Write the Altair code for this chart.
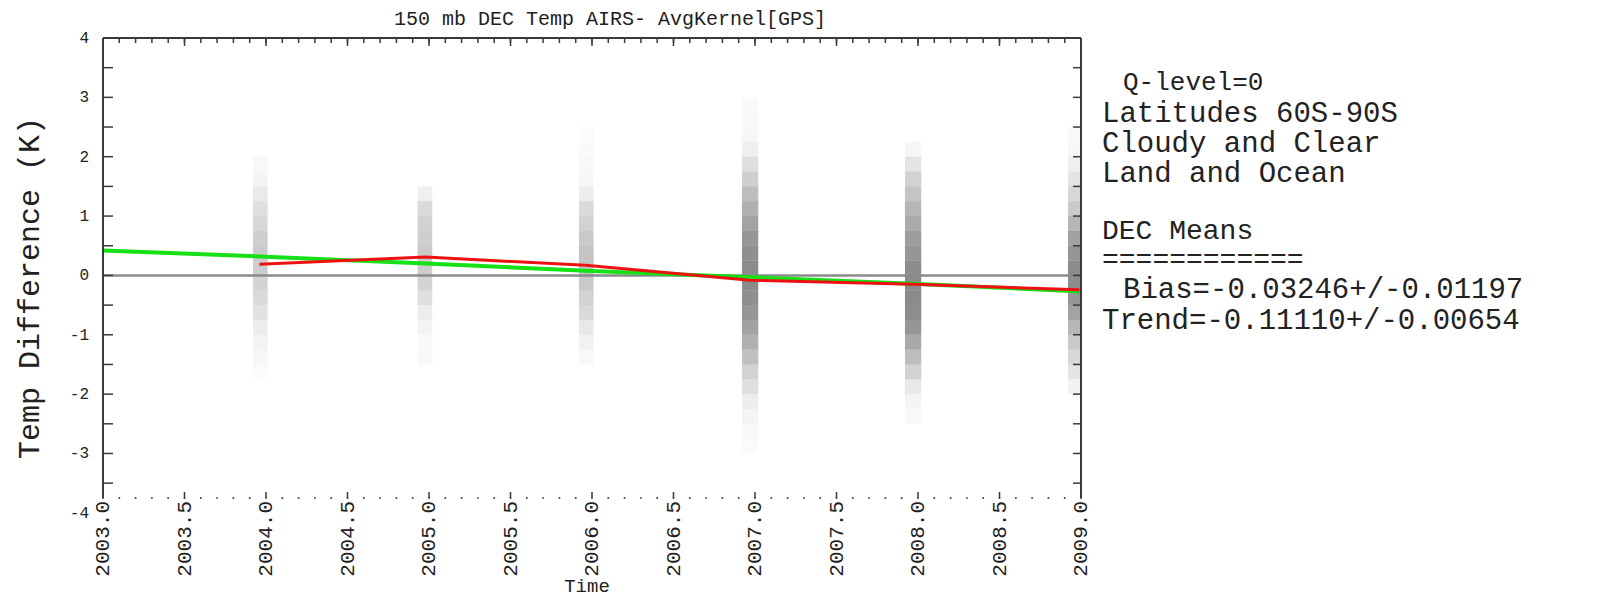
import altair as alt
import pandas as pd
import numpy as np

# ---------------- data ----------------
TITLE = "150 mb DEC Temp AIRS- AvgKernel[GPS]"
Y_TITLE = "Temp Difference (K)"
X_TITLE = "Time"
INFO_LINES = [
    "Q-level=0",
    "Latitudes 60S-90S",
    "Cloudy and Clear",
    "Land and Ocean",
    "DEC  Means",
    "============",
    "Bias=-0.03246+/-0.01197",
    "Trend=-0.11110+/-0.00654",
]

x_tick_values = [2003.0, 2003.5, 2004.0, 2004.5, 2005.0, 2005.5, 2006.0,
                 2006.5, 2007.0, 2007.5, 2008.0, 2008.5, 2009.0]
x_tick_labels = ["2003.0", "2003.5", "2004.0", "2004.5", "2005.0", "2005.5", "2006.0",
                 "2006.5", "2007.0", "2007.5", "2008.0", "2008.5", "2009.0"]
y_tick_values = [-4, -3, -2, -1, 0, 1, 2, 3, 4]
y_tick_labels = ["-4", "-3", "-2", "-1", "0", "1", "2", "3", "4"]

# red: monthly (DEC) mean differences
red_x = [2003.96, 2004.98, 2005.96, 2006.97, 2007.97, 2008.99]
red_y = [0.19, 0.31, 0.17, -0.08, -0.15, -0.24]
# green: fitted trend line
green_x = [2003.0, 2003.96, 2004.98, 2005.96, 2006.97, 2007.97, 2009.0]
green_y = [0.42, 0.32, 0.20, 0.08, -0.03, -0.14, -0.27]

# scatter bands (one per December), shown as point density per 0.25 K bin
band_start = [2003.92, 2004.93, 2005.92, 2006.92, 2007.92, 2008.92]
band_end = [2004.01, 2005.02, 2006.01, 2007.02, 2008.02, 2009.00]
bin_lo = [-3.0, -2.75, -2.5, -2.25, -2.0, -1.75, -1.5, -1.25, -1.0, -0.75, -0.5, -0.25,
          0.0, 0.25, 0.5, 0.75, 1.0, 1.25, 1.5, 1.75, 2.0, 2.25, 2.5, 2.75]
dens_2003 = [0, 0, 0, 0, 0, 0.03, 0.06, 0.09, 0.14, 0.22, 0.28, 0.32,
             0.38, 0.40, 0.36, 0.30, 0.24, 0.16, 0.08, 0.05, 0, 0, 0, 0]
dens_2004 = [0, 0, 0, 0, 0, 0, 0.05, 0.04, 0.09, 0.14, 0.24, 0.32,
             0.38, 0.40, 0.36, 0.34, 0.28, 0.12, 0, 0, 0, 0, 0, 0]
dens_2005 = [0, 0, 0, 0, 0, 0, 0.05, 0.10, 0.18, 0.28, 0.34, 0.40,
             0.45, 0.45, 0.40, 0.34, 0.28, 0.14, 0.06, 0.05, 0.04, 0.03, 0, 0]
dens_2006 = [0.03, 0.05, 0.08, 0.14, 0.24, 0.34, 0.48, 0.60, 0.70, 0.80, 0.85, 0.88,
             0.88, 0.85, 0.80, 0.70, 0.60, 0.50, 0.36, 0.24, 0.12, 0.06, 0.05, 0.04]
dens_2007 = [0, 0, 0.05, 0.08, 0.18, 0.34, 0.50, 0.65, 0.80, 0.86, 0.88, 0.88,
             0.86, 0.80, 0.74, 0.64, 0.55, 0.45, 0.34, 0.20, 0.07, 0, 0, 0]
dens_2008 = [0, 0, 0, 0, 0.10, 0.20, 0.30, 0.40, 0.55, 0.70, 0.80, 0.86,
             0.86, 0.80, 0.70, 0.55, 0.40, 0.30, 0.20, 0.12, 0.07, 0.05, 0, 0]
densities = [dens_2003, dens_2004, dens_2005, dens_2006, dens_2007, dens_2008]

# ---------------- tables ----------------
rows = []
for i, dens in enumerate(densities):
    for lo, d in zip(bin_lo, dens):
        if d > 0:
            rows.append({"x0": band_start[i], "x1": band_end[i],
                         "y0": lo, "y1": lo + 0.25, "op": d})
band_df = pd.DataFrame(rows)
red_df = pd.DataFrame({"x": red_x, "y": red_y})
green_df = pd.DataFrame({"x": green_x, "y": green_y})

minor_x = [round(2003.0 + 0.1 * i, 1) for i in range(61)]
half_y = [v / 2 for v in range(-7, 9)]

W, H = 978, 460
FONT = "Liberation Mono"
TXT = "#222222"
AX = "#3a3a3a"

xs = alt.Scale(domain=[2003, 2009], nice=False, zero=False)
ys = alt.Scale(domain=[-3.75, 4], nice=False, zero=False)


def X(field="x"):
    return alt.X(f"{field}:Q", scale=xs, axis=None)


def Y(field="y"):
    return alt.Y(f"{field}:Q", scale=ys, axis=None)


layers = []

# density bands
layers.append(
    alt.Chart(band_df).mark_rect(color="#2a2a2a").encode(
        x=X("x0"), x2="x1", y=Y("y0"), y2="y1",
        opacity=alt.Opacity("op:Q", scale=alt.Scale(domain=[0, 1], range=[0, 0.62]),
                            legend=None))
)

# zero line
zero_df = pd.DataFrame({"x": [2003.0], "x2": [2009.0], "y": [0.0]})
layers.append(
    alt.Chart(zero_df).mark_rule(color="#8a8a8a", strokeWidth=2.5).encode(
        x=X("x"), x2="x2", y=Y("y"))
)

# lines
layers.append(alt.Chart(green_df).mark_line(color="#16e016", strokeWidth=4).encode(x=X(), y=Y()))
layers.append(alt.Chart(red_df).mark_line(color="#ee1111", strokeWidth=3).encode(x=X(), y=Y()))

# frame: left, right, top
frame_v = pd.DataFrame({"x": [2003.0, 2009.0], "y": [-3.75, -3.75], "y2": [4.0, 4.0]})
layers.append(alt.Chart(frame_v).mark_rule(color=AX, strokeWidth=2).encode(x=X(), y=Y(), y2="y2"))
frame_t = pd.DataFrame({"x": [2003.0], "x2": [2009.0], "y": [4.0]})
layers.append(alt.Chart(frame_t).mark_rule(color=AX, strokeWidth=2).encode(x=X(), x2="x2", y=Y()))

# top ticks
minor_df = pd.DataFrame({"x": minor_x})
major_df = pd.DataFrame({"x": x_tick_values})
layers.append(alt.Chart(minor_df).mark_rule(color=AX, strokeWidth=1.5).encode(
    x=X(), y=alt.value(0), y2=alt.value(5)))
layers.append(alt.Chart(major_df).mark_rule(color=AX, strokeWidth=1.5).encode(
    x=X(), y=alt.value(0), y2=alt.value(8)))

# bottom dotted axis
layers.append(alt.Chart(minor_df).mark_square(size=3, color=AX, opacity=1).encode(
    x=X(), y=alt.value(H)))
layers.append(alt.Chart(major_df).mark_rule(color=AX, strokeWidth=1.5).encode(
    x=X(), y=alt.value(H - 6), y2=alt.value(H)))

# left / right ticks
half_df = pd.DataFrame({"y": half_y})
layers.append(alt.Chart(half_df).mark_rule(color=AX, strokeWidth=1.5).encode(
    y=Y(), x=alt.value(0), x2=alt.value(10)))
layers.append(alt.Chart(half_df).mark_rule(color=AX, strokeWidth=1.5).encode(
    y=Y(), x=alt.value(W - 8), x2=alt.value(W)))

# tick labels
ylab_df = pd.DataFrame({"y": y_tick_values, "t": y_tick_labels})
layers.append(alt.Chart(ylab_df).mark_text(
    font=FONT, fontSize=16, color=TXT, align="right", baseline="middle").encode(
    y=Y(), x=alt.value(-14), text="t:N"))
xlab_df = pd.DataFrame({"x": x_tick_values, "t": x_tick_labels})
layers.append(alt.Chart(xlab_df).mark_text(
    font=FONT, fontSize=21, color=TXT, align="right", baseline="middle", angle=270).encode(
    x=X(), y=alt.value(H + 3), text="t:N"))


def label(text, x, y, size, align="left", angle=0):
    return alt.Chart(pd.DataFrame({"t": [text]})).mark_text(
        font=FONT, fontSize=size, color=TXT, align=align, baseline="middle",
        angle=angle).encode(x=alt.value(x), y=alt.value(y), text="t:N")


layers.append(label(TITLE, 507, -19, 20, align="center"))
layers.append(label(Y_TITLE, -73, 250, 30, align="center", angle=270))
layers.append(label(X_TITLE, 484, 548, 19, align="center"))

info_pos = [(1020, 44, 26), (999, 75, 29), (999, 105, 29), (999, 135, 29),
            (999, 193, 28), (999, 222, 28), (1020, 251, 29), (999, 282, 29)]
for line, (px, py, sz) in zip(INFO_LINES, info_pos):
    layers.append(label(line, px, py, sz))

chart = alt.layer(*layers).properties(
    width=W, height=H,
    autosize=alt.AutoSizeParams(type="none"),
    padding={"left": 95, "top": 30, "right": 520, "bottom": 104},
    background="white",
).configure_view(strokeWidth=0)

chart.save("out.html", embed_options={"renderer": "svg", "actions": False})
